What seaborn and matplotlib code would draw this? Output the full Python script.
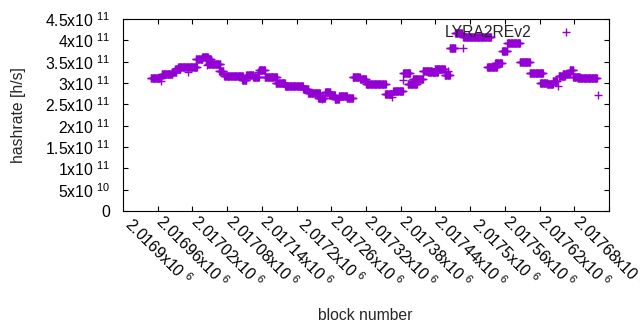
import numpy as np
import pandas as pd
import matplotlib
matplotlib.use('Agg')
import matplotlib.pyplot as plt
import seaborn as sns

# runs of blocks with (nearly) the same estimated hashrate, rate in 1e11 h/s
seg_start = [2016888, 2016907, 2016925, 2016930, 2016935, 2016966, 2016977, 2016983, 2016987, 2017006,
             2017015, 2017046, 2017053, 2017065, 2017075, 2017085, 2017104, 2017120, 2017151, 2017160,
             2017177, 2017189, 2017196, 2017206, 2017213, 2017227, 2017237, 2017250, 2017260, 2017293,
             2017307, 2017324, 2017332, 2017341, 2017358, 2017367, 2017379, 2017396, 2017405, 2017414,
             2017428, 2017469, 2017483, 2017495, 2017504, 2017526, 2017543, 2017561, 2017573, 2017583,
             2017593, 2017600, 2017612, 2017618, 2017626]
seg_end = [2016906, 2016925, 2016932, 2016939, 2016968, 2016977, 2016987, 2016992, 2017008, 2017013,
           2017047, 2017053, 2017065, 2017075, 2017085, 2017106, 2017120, 2017151, 2017160, 2017180,
           2017189, 2017198, 2017206, 2017213, 2017227, 2017237, 2017249, 2017260, 2017294, 2017305,
           2017324, 2017336, 2017348, 2017358, 2017374, 2017384, 2017396, 2017405, 2017414, 2017426,
           2017476, 2017486, 2017495, 2017504, 2017526, 2017543, 2017566, 2017573, 2017583, 2017590,
           2017604, 2017612, 2017618, 2017630, 2017659]
seg_rate = [3.12, 3.21, 3.26, 3.33, 3.37, 3.56, 3.61, 3.56, 3.45, 3.28,
            3.16, 3.07, 3.19, 3.14, 3.30, 3.14, 3.00, 2.93, 2.86, 2.77,
            2.65, 2.79, 2.72, 2.62, 2.70, 2.65, 3.14, 3.09, 2.98, 2.74,
            2.81, 3.23, 2.98, 3.09, 3.28, 3.26, 3.33, 3.19, 3.82, 4.17,
            4.08, 3.37, 3.47, 3.75, 3.93, 3.49, 3.23, 3.00, 2.98, 3.05,
            3.16, 3.21, 3.30, 3.14, 3.12]

# single outlying blocks
iso_block = [2016906, 2016952, 2016985, 2017073, 2017184, 2017305, 2017324, 2017402, 2017428, 2017592, 2017661]
iso_rate = [3.05, 3.26, 3.42, 3.26, 2.62, 2.67, 3.07, 3.28, 3.82, 2.93, 2.72]

x_ticks = [2016900, 2016960, 2017020, 2017080, 2017140, 2017200, 2017260, 2017320,
           2017380, 2017440, 2017500, 2017560, 2017620, 2017680]
y_ticks = [0, 0.5e11, 1e11, 1.5e11, 2e11, 2.5e11, 3e11, 3.5e11, 4e11, 4.5e11]
y_labels = ['0', r'5x10 $\mathregular{^{10}}$'] + \
           [f'{v/1e11:g}x10 ' + r'$\mathregular{^{11}}$' for v in y_ticks[2:]]
x_labels = [f'{v/1e6:g}x10 ' + r'$\mathregular{^{6}}$' for v in x_ticks]

blocks, rates = [], []
for s, e, r in zip(seg_start, seg_end, seg_rate):
    for b in range(s, e + 1):
        blocks.append(b)
        rates.append(r * 1e11)
blocks += iso_block
rates += [r * 1e11 for r in iso_rate]
df = pd.DataFrame({'block': blocks, 'hashrate': rates})

sns.set_style('white')
plt.rcParams['font.family'] = ['Liberation Sans', 'DejaVu Sans']
plt.rcParams['mathtext.fontset'] = 'custom'
plt.rcParams['mathtext.rm'] = 'Liberation Sans'

fig = plt.figure(figsize=(6.4, 3.3), dpi=100)
ax = fig.add_axes([123/640, 1 - 211/330, 486/640, 192/330])

sns.scatterplot(data=df, x='block', y='hashrate', marker='+', color='#9400D3',
                s=36, linewidth=1.0, label='LYRA2REv2', ax=ax)

ax.set_xlim(2016840, 2017680)
ax.set_ylim(0, 4.5e11)
ax.set_yticks(y_ticks)
ax.set_yticklabels(y_labels, fontsize=11.3)
ax.set_xticks(x_ticks)
ax.set_xticklabels(x_labels, fontsize=11.3, rotation=-45, ha='center', va='center',
                   rotation_mode='anchor')
ax.tick_params(axis='x', pad=29)
ax.tick_params(axis='y', pad=9)
ax.tick_params(direction='in', length=3.3, width=0.8, top=True, right=True,
               bottom=True, left=True, colors='black', labelcolor='black')

for sp in ax.spines.values():
    sp.set_visible(True)
    sp.set_linewidth(0.8)
    sp.set_color('black')

ax.set_xlabel('block number', fontsize=11.3)
ax.set_ylabel('hashrate [h/s]', fontsize=11.3)
ax.xaxis.set_label_coords(0.498, -0.505)
ax.yaxis.set_label_coords(-0.20, 0.5)

ax.legend(loc='center right', bbox_to_anchor=(0.944, 0.932), frameon=False,
          markerfirst=False, borderpad=0, borderaxespad=0, handlelength=2,
          handletextpad=1.2, fontsize=11.3)

fig.savefig('out.png', dpi=100)
